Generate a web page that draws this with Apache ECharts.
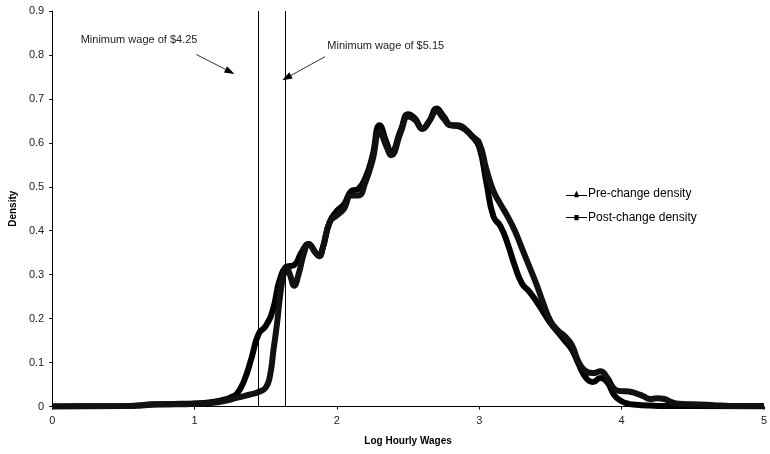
<!DOCTYPE html>
<html>
<head>
<meta charset="utf-8">
<script src="https://cdn.jsdelivr.net/npm/echarts@6/dist/echarts.min.js"></script>
<style>
html,body{margin:0;padding:0;background:#fff;}
#chart{width:770px;height:454px;}
</style>
</head>
<body>
<div id="chart"></div>
<script>
// ---- data ----
var xTicks = [0, 1, 2, 3, 4, 5];
var yTicks = [0, 0.1, 0.2, 0.3, 0.4, 0.5, 0.6, 0.7, 0.8, 0.9];

var preX = [0, 0.5, 0.6, 0.7, 0.8, 0.9, 1.0, 1.1, 1.2, 1.25, 1.3, 1.35, 1.4, 1.45, 1.5, 1.55, 1.6, 1.65, 1.7, 1.75, 1.8, 1.85, 1.875, 1.9, 1.95, 2.0, 2.05, 2.1, 2.15, 2.2, 2.25, 2.3, 2.35, 2.38, 2.45, 2.5, 2.55, 2.6, 2.65, 2.7, 2.75, 2.8, 2.85, 2.9, 2.95, 3.0, 3.05, 3.1, 3.15, 3.2, 3.25, 3.3, 3.35, 3.4, 3.45, 3.5, 3.55, 3.6, 3.65, 3.7, 3.75, 3.8, 3.85, 3.9, 3.95, 4.0, 4.05, 4.1, 4.2, 4.3, 4.5, 5.0];
var preY = [0, 0.001, 0.002, 0.005, 0.005, 0.006, 0.007, 0.009, 0.015, 0.02, 0.03, 0.06, 0.11, 0.165, 0.183, 0.22, 0.29, 0.318, 0.322, 0.35, 0.37, 0.35, 0.342, 0.36, 0.42, 0.445, 0.46, 0.49, 0.495, 0.52, 0.57, 0.64, 0.6, 0.578, 0.63, 0.665, 0.655, 0.632, 0.65, 0.678, 0.66, 0.64, 0.638, 0.63, 0.615, 0.59, 0.51, 0.432, 0.41, 0.37, 0.32, 0.28, 0.262, 0.24, 0.215, 0.19, 0.17, 0.15, 0.13, 0.095, 0.065, 0.056, 0.065, 0.055, 0.025, 0.012, 0.006, 0.004, 0.002, 0.001, 0.001, 0];

var postX = [0, 0.5, 0.6, 0.7, 0.8, 0.9, 1.0, 1.1, 1.2, 1.3, 1.4, 1.45, 1.5, 1.53, 1.555, 1.58, 1.6, 1.625, 1.645, 1.67, 1.7, 1.73, 1.77, 1.8, 1.85, 1.875, 1.9, 1.95, 2.0, 2.05, 2.1, 2.15, 2.2, 2.25, 2.3, 2.35, 2.38, 2.45, 2.5, 2.55, 2.6, 2.65, 2.7, 2.75, 2.8, 2.85, 2.9, 2.95, 3.0, 3.05, 3.1, 3.15, 3.2, 3.25, 3.3, 3.35, 3.4, 3.45, 3.5, 3.55, 3.6, 3.65, 3.7, 3.75, 3.8, 3.85, 3.9, 3.95, 4.0, 4.05, 4.1, 4.15, 4.2, 4.25, 4.3, 4.35, 4.4, 4.5, 4.6, 4.7, 4.8, 5.0];
var postY = [0, 0.001, 0.002, 0.004, 0.005, 0.005, 0.006, 0.008, 0.012, 0.02, 0.028, 0.033, 0.043, 0.07, 0.13, 0.19, 0.25, 0.3, 0.318, 0.3, 0.275, 0.3, 0.35, 0.37, 0.35, 0.342, 0.36, 0.42, 0.435, 0.45, 0.48, 0.48, 0.51, 0.56, 0.625, 0.59, 0.572, 0.625, 0.66, 0.652, 0.632, 0.65, 0.672, 0.655, 0.64, 0.64, 0.632, 0.615, 0.6, 0.54, 0.49, 0.46, 0.432, 0.4, 0.36, 0.32, 0.28, 0.235, 0.195, 0.174, 0.16, 0.14, 0.1, 0.08, 0.076, 0.08, 0.065, 0.04, 0.035, 0.034, 0.03, 0.024, 0.017, 0.019, 0.017, 0.01, 0.006, 0.005, 0.004, 0.002, 0.001, 0.001];

var seriesNames = ['Pre-change density', 'Post-change density'];
var minWageLogs = [Math.log(4.25), Math.log(5.15)];
var annotationTexts = ['Minimum wage of $4.25', 'Minimum wage of $5.15'];
// annotation anchors in data units: [textX, textY, arrowFromX, arrowFromY, arrowToX, arrowToY]
var annotationAnchors = [
  [0.20, 0.833, 1.012, 0.801, 1.249, 0.762],
  [1.933, 0.821, 1.917, 0.796, 1.647, 0.748]
];

function zip(xs, ys) { return xs.map(function (x, i) { return [x, ys[i]]; }); }

var FONT = '"Liberation Sans", Arial, sans-serif';

var chart = echarts.init(document.getElementById('chart'), null, {renderer: 'canvas'});

var option = {
  animation: false,
  backgroundColor: '#fff',
  grid: {left: 52, right: 2, top: 11, bottom: 47.5, containLabel: false},
  xAxis: {
    type: 'value', min: 0, max: 5, interval: 1,
    name: 'Log Hourly Wages', nameLocation: 'middle', nameGap: 30,
    nameTextStyle: {fontFamily: FONT, fontSize: 10, fontWeight: 'bold', color: '#000'},
    axisLine: {show: true, onZero: false, lineStyle: {color: '#000', width: 1}},
    axisTick: {show: true, length: 3, lineStyle: {color: '#000'}},
    axisLabel: {fontFamily: FONT, fontSize: 11, color: '#222', margin: 9,
      formatter: function (v) { return String(v); }},
    splitLine: {show: false}
  },
  yAxis: {
    type: 'value', min: 0, max: 0.9, interval: 0.1,
    name: 'Density', nameLocation: 'middle', nameGap: 30,
    nameTextStyle: {fontFamily: FONT, fontSize: 10, fontWeight: 'bold', color: '#000'},
    axisLine: {show: true, lineStyle: {color: '#000', width: 1}},
    axisTick: {show: true, length: 3, lineStyle: {color: '#000'}},
    axisLabel: {fontFamily: FONT, fontSize: 11, color: '#222', margin: 8,
      formatter: function (v) { return String(Math.round(v * 10) / 10); }},
    splitLine: {show: false}
  },
  legend: {
    orient: 'vertical', left: 561, top: 183,
    itemWidth: 21, itemHeight: 8, itemGap: 11.5,
    textStyle: {fontFamily: FONT, fontSize: 12, color: '#000', padding: [0,0,0,-4]},
    data: [
      {name: seriesNames[0], icon: 'path://M0,4 L8,4 L10,0 L12,4 L20,4 L20,5 L12,5 L12,6 L8,6 L8,5 L0,5 Z'},
      {name: seriesNames[1], icon: 'path://M0,4 L8,4 L8,2 L12,2 L12,4 L20,4 L20,5 L12,5 L12,7 L8,7 L8,5 L0,5 Z'}
    ]
  },
  series: [
    {
      name: 'guides', type: 'line', data: [], silent: true, z: 1,
      markLine: {
        silent: true, symbol: ['none', 'none'], animation: false,
        label: {show: false},
        lineStyle: {color: '#000', width: 1, type: 'solid'},
        data: minWageLogs.map(function (v) { return {xAxis: v}; })
      }
    },
    {
      name: 'arrows', type: 'line', data: [], silent: true, z: 1,
      markLine: {
        silent: true, symbol: ['none', 'triangle'], symbolSize: [7, 10], animation: false,
        label: {show: false},
        lineStyle: {color: '#000', width: 0.8, type: 'solid'},
        data: annotationAnchors.map(function (a) {
          return [{coord: [a[2], a[3]]}, {coord: [a[4], a[5]]}];
        })
      },
      markPoint: {
        silent: true, symbol: 'circle', symbolSize: 0, animation: false,
        label: {show: true, position: 'right', distance: 0, formatter: '{b}',
          fontFamily: FONT, fontSize: 11, color: '#222'},
        data: annotationAnchors.map(function (a, i) {
          return {name: annotationTexts[i], coord: [a[0], a[1]]};
        })
      }
    },
    {
      name: seriesNames[0], type: 'line', data: zip(preX, preY),
      smooth: 0.5, showSymbol: false, symbol: 'triangle', z: 3,
      lineStyle: {color: '#000', width: 6}, itemStyle: {color: '#000'}
    },
    {
      name: seriesNames[1], type: 'line', data: zip(postX, postY),
      smooth: 0.5, showSymbol: false, symbol: 'rect', z: 3,
      lineStyle: {color: '#111', width: 6}, itemStyle: {color: '#000'}
    }
  ]
};
chart.setOption(option);
</script>
</body>
</html>
